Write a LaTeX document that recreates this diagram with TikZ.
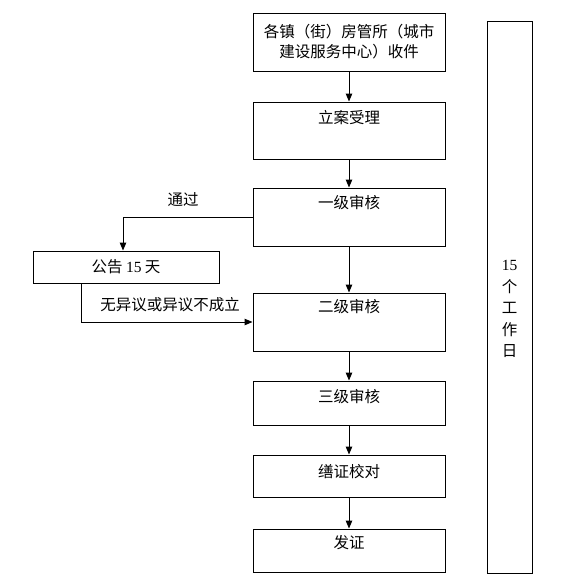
\documentclass[tikz,border=0pt]{standalone}
\usepackage{fontspec}
\setmainfont{Liberation Serif}
\newfontfamily\cjk{Noto Sans CJK SC}
\usetikzlibrary{arrows.meta}
\begin{document}
\begin{tikzpicture}[x=1pt,y=-1pt,
  box/.style={draw, line width=1pt, inner sep=0pt, minimum width=192pt},
  txt/.style={font=\fontsize{15.5}{20}\selectfont\cjk, inner sep=0pt},
  arr/.style={line width=1pt, -{Triangle[length=8pt,width=6.5pt]}}]
\useasboundingbox (0,0) rectangle (574,587);
% main column boxes
\node[box, minimum height=58pt] (b1) at (349,42) {};
\node[box, minimum height=57pt] (b2) at (349,130.5) {};
\node[box, minimum height=58pt] (b3) at (349,217) {};
\node[box, minimum height=58pt] (b4) at (349,322) {};
\node[box, minimum height=44pt] (b5) at (349,403) {};
\node[box, minimum height=42pt] (b6) at (349,476) {};
\node[box, minimum height=43pt] (b7) at (349,550.5) {};
\node[box, minimum width=186pt, minimum height=32pt] (gg) at (126,267) {};
\node[box, minimum width=45pt, minimum height=552pt] (rb) at (509.5,297) {};
% texts
\node[txt, align=center] (t1) at (349,42) {各镇（街）房管所（城市\\建设服务中心）收件};
\node[txt] (t2) at (349,118) {立案受理};
\node[txt] (t3) at (349,203) {一级审核};
\node[txt] (t4) at (349,307) {二级审核};
\node[txt] (t5) at (349,397) {三级审核};
\node[txt] (t6) at (349,472) {缮证校对};
\node[txt] (t7) at (349,543) {发证};
\node[txt] (tg) at (126,267) {公告 {\rmfamily 15} 天};
\node[txt, align=center, font=\fontsize{15.5}{21.5}\selectfont\cjk] (tr) at (509.5,309) {{\rmfamily 15}\\个\\工\\作\\日};
\node[txt] (lpass) at (183,200) {通过};
\node[txt] (lnoobj) at (170,305) {无异议或异议不成立};
% connectors
\draw[arr] (b1) -- (b2);
\draw[arr] (b2) -- (b3);
\draw[arr] (b3) -- (b4);
\draw[arr] (b4) -- (b5);
\draw[arr] (b5) -- (b6);
\draw[arr] (b6) -- (b7);
\draw[arr] (b3.west) -| ([xshift=-3pt]gg.north);
\coordinate (ggout) at ([xshift=49pt]gg.south west);
\draw[arr] (ggout) |- (b4.west);
\end{tikzpicture}
\end{document}
